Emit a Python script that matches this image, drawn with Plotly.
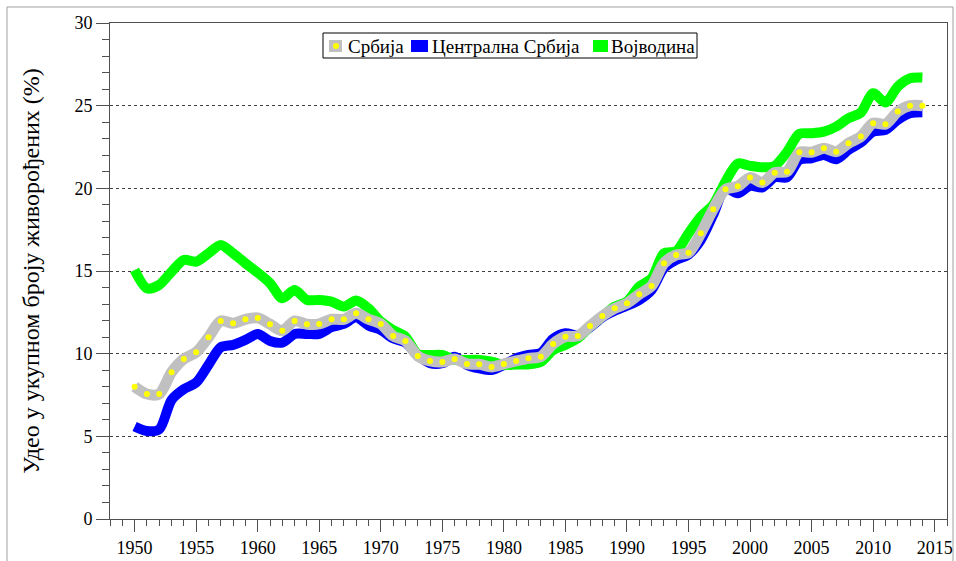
import plotly.graph_objects as go

years = list(range(1950, 2015))

srbija = [8.0, 7.56, 7.56, 8.87, 9.68, 10.08, 10.99, 11.98, 11.84, 12.08,
          12.16, 11.78, 11.39, 11.98, 11.78, 11.80, 12.08, 12.08, 12.44, 12.08,
          11.80, 11.07, 10.77, 9.86, 9.56, 9.50, 9.68, 9.38, 9.36, 9.20,
          9.38, 9.56, 9.72, 9.82, 10.59, 11.03, 11.07, 11.68, 12.28, 12.74,
          13.05, 13.59, 14.10, 15.47, 15.97, 16.11, 17.28, 18.73, 19.94, 20.12,
          20.65, 20.35, 20.95, 21.01, 22.18, 22.18, 22.42, 22.22, 22.73, 23.13,
          23.94, 23.88, 24.64, 25.0, 25.0]

centralna = [5.6, 5.32, 5.42, 7.2, 7.85, 8.25, 9.32, 10.39, 10.53, 10.83,
             11.19, 10.77, 10.67, 11.19, 11.19, 11.2, 11.6, 11.8, 12.2, 11.7,
             11.43, 10.93, 10.67, 9.92, 9.42, 9.42, 9.82, 9.32, 9.11, 9.01,
             9.32, 9.72, 9.92, 10.05, 10.9, 11.23, 11.1, 11.6, 12.2, 12.6,
             12.9, 13.25, 13.85, 15.17, 15.67, 16.0, 16.88, 18.39, 20.0, 19.7,
             20.15, 20.06, 20.67, 20.67, 21.72, 21.82, 22.02, 21.76, 22.32, 22.77,
             23.43, 23.53, 24.14, 24.54, 24.6]

vojvodina = [15.06, 13.95, 14.16, 14.96, 15.67, 15.57, 16.07, 16.58, 16.07, 15.47,
             14.90, 14.26, 13.35, 13.85, 13.25, 13.25, 13.15, 12.85, 13.21, 12.74,
             11.94, 11.43, 11.03, 9.98, 9.92, 9.92, 9.62, 9.62, 9.62, 9.52,
             9.32, 9.35, 9.35, 9.5, 10.22, 10.53, 10.93, 11.64, 12.25, 12.85,
             13.15, 14.06, 14.56, 16.07, 16.2, 17.28, 18.29, 19.0, 20.4, 21.5,
             21.36, 21.27, 21.36, 22.2, 23.29, 23.33, 23.43, 23.73, 24.24, 24.58,
             25.75, 25.19, 26.15, 26.66, 26.7]

names = ["Србија", "Централна Србија", "Војводина"]
y_title = "Удео у укупном броју живорођених (%)"

FONT = "'Liberation Serif', 'Times New Roman', 'DejaVu Serif', serif"
AX = "#505050"

fig = go.Figure()
fig.add_trace(go.Scatter(x=years, y=centralna, mode="lines", name=names[1],
                         line=dict(color="#0000FF", width=10, shape="spline", smoothing=0.8),
                         showlegend=False))
fig.add_trace(go.Scatter(x=years, y=vojvodina, mode="lines", name=names[2],
                         line=dict(color="#00FF00", width=10, shape="spline", smoothing=0.8),
                         showlegend=False))
fig.add_trace(go.Scatter(x=years, y=srbija, mode="lines+markers", name=names[0],
                         line=dict(color="#C0C0C0", width=11, shape="spline", smoothing=0.8),
                         marker=dict(color="#FFFF00", size=6, line=dict(width=0)),
                         showlegend=False))

# manual legend (paper coordinates)
def px(x):
    return (x - 110) / 837.0

def py(y):
    return (519 - y) / 496.0

shapes = []
annotations = []
shapes.append(dict(type="rect", xref="paper", yref="paper",
                   x0=px(323), x1=px(697), y0=py(58), y1=py(33),
                   line=dict(color="#000000", width=1), fillcolor="white", layer="above"))
sw = [(329, 342, "#C0C0C0"), (411, 428, "#0000FF"), (593, 608, "#00FF00")]
for (a, b, c) in sw:
    shapes.append(dict(type="rect", xref="paper", yref="paper",
                       x0=px(a), x1=px(b), y0=py(52), y1=py(40),
                       line=dict(width=0), fillcolor=c, layer="above"))
shapes.append(dict(type="circle", xref="paper", yref="paper",
                   x0=px(333), x1=px(339), y0=py(49), y1=py(43),
                   line=dict(width=0), fillcolor="#FFFF00", layer="above"))
for (xt, t) in [(346, names[0]), (430, names[1]), (609, names[2])]:
    annotations.append(dict(xref="paper", yref="paper", x=px(xt), y=py(46),
                            xanchor="left", yanchor="middle", text=t, showarrow=False,
                            font=dict(family=FONT, size=19, color="#000000")))

# outer frame
shapes.append(dict(type="rect", xref="paper", yref="paper",
                   x0=px(7), x1=px(953), y0=py(580), y1=py(7),
                   line=dict(color="#A0A0A0", width=1), layer="below"))

fig.update_layout(
    width=956, height=561,
    margin=dict(l=110, r=9, t=23, b=42, autoexpand=False),
    paper_bgcolor="white", plot_bgcolor="white",
    font=dict(family=FONT, size=18, color="#000000"),
    shapes=shapes, annotations=annotations,
    showlegend=False,
)
fig.update_xaxes(range=[1948, 2016], tickmode="linear", tick0=1950, dtick=5,
                 ticks="outside", ticklen=12, tickcolor=AX, tickwidth=1,
                 showline=True, linecolor=AX, linewidth=1, mirror=True,
                 showgrid=False, zeroline=False, automargin=False,
                 tickfont=dict(family=FONT, size=18),
                 minor=dict(dtick=1, tick0=1948, ticks="outside", ticklen=6, tickcolor=AX, showgrid=False))
fig.update_yaxes(range=[0, 30], tickmode="linear", tick0=0, dtick=5,
                 ticks="outside", ticklen=13, tickcolor=AX, tickwidth=1,
                 showline=True, linecolor=AX, linewidth=1, mirror=True,
                 showgrid=True, gridcolor="#404040", gridwidth=1, griddash="3px,3px",
                 zeroline=False, automargin=False,
                 tickfont=dict(family=FONT, size=18),
                 title=dict(text=y_title, font=dict(family=FONT, size=24), standoff=28),
                 minor=dict(dtick=1, ticks="outside", ticklen=7, tickcolor=AX, showgrid=False))

fig.write_html("out.html",
               config={"displayModeBar": False},
               post_script="document.body.style.margin='0';document.body.style.padding='0';")
